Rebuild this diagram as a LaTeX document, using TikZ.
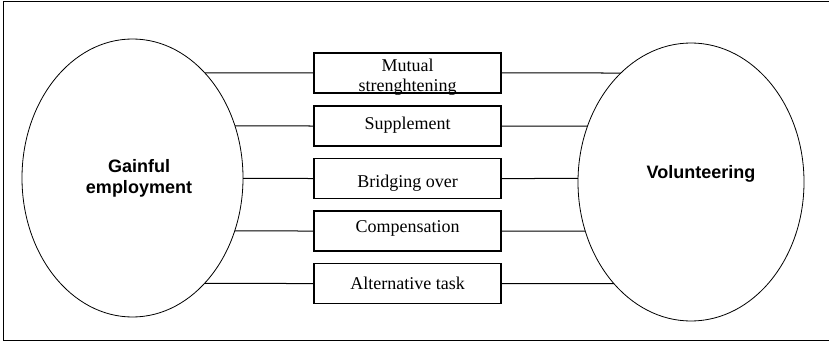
\documentclass[tikz,border=0pt]{standalone}
\usepackage{fontspec}
\setmainfont{Liberation Serif}
\setsansfont{Liberation Sans}
\usetikzlibrary{shapes.geometric,intersections}

\tikzset{
    relbox/.style={draw, rectangle, line width=1.2pt, minimum width=187pt, minimum height=40pt,
        inner sep=0pt, align=center, font=\fontsize{18}{20}\selectfont},
    sphere/.style={draw, ellipse, line width=0.8pt, inner sep=0pt},
    spheretext/.style={align=center, font=\sffamily\bfseries\fontsize{18}{21}\selectfont},
    link/.style={line width=1pt}
}

\begin{document}
\begin{tikzpicture}[x=1pt,y=-1pt]
        \useasboundingbox (0,0) rectangle (829,342);
        \draw[line width=1pt] (3,1.5) rectangle (845,340.5);

        % the two spheres
        \node[sphere, minimum width=221pt, minimum height=278pt, name path=emp] (emp) at (132.5,178) {};
        \node[sphere, minimum width=226pt, minimum height=278pt, name path=vol] (vol) at (691,182) {};
        \node[spheretext] (empt) at (139,178) {Gainful\\employment};
        \node[spheretext] (volt) at (701,173.5) {Volunteering};

        % the relations
        \node[relbox, text height=19pt, text depth=21pt] (b1) at (407.5,73)
            {\parbox[t]{187pt}{\centering Mutual\\strenghtening}};
        \node[relbox, text height=10pt, text depth=4pt] (b2) at (407.5,126) {Supplement};
        \node[relbox, text height=22pt, text depth=4pt] (b3) at (407.5,178.5) {Bridging over};
        \node[relbox, text height=12pt, text depth=10pt] (b4) at (407.5,231) {Compensation};
        \node[relbox, text height=15pt, text depth=4pt] (b5) at (407.5,283.5) {Alternative task};

        \path[name path=l1] (b1.west) -- ++(-200,0);
        \path[name path=l2] (b2.west) -- ++(-200,0);
        \path[name path=l3] (b3.west) -- ++(-200,0);
        \path[name path=l4] (b4.west) -- ++(-200,0);
        \path[name path=l5] (b5.west) -- ++(-200,0);
        \path[name path=r1] (b1.east) -- ++(200,0);
        \path[name path=r2] (b2.east) -- ++(200,0);
        \path[name path=r3] (b3.east) -- ++(200,0);
        \path[name path=r4] (b4.east) -- ++(200,0);
        \path[name path=r5] (b5.east) -- ++(200,0);

        \draw[link, name intersections={of=emp and l1}] (b1.west) -- (intersection-1);
        \draw[link, name intersections={of=emp and l2}] (b2.west) -- (intersection-1);
        \draw[link, name intersections={of=emp and l3}] (b3.west) -- (intersection-1);
        \draw[link, name intersections={of=emp and l4}] (b4.west) -- (intersection-1);
        \draw[link, name intersections={of=emp and l5}] (b5.west) -- (intersection-1);
        \draw[link, name intersections={of=vol and r1}] (b1.east) -- (intersection-1);
        \draw[link, name intersections={of=vol and r2}] (b2.east) -- (intersection-1);
        \draw[link, name intersections={of=vol and r3}] (b3.east) -- (intersection-1);
        \draw[link, name intersections={of=vol and r4}] (b4.east) -- (intersection-1);
        \draw[link, name intersections={of=vol and r5}] (b5.east) -- (intersection-1);
\end{tikzpicture}
\end{document}
